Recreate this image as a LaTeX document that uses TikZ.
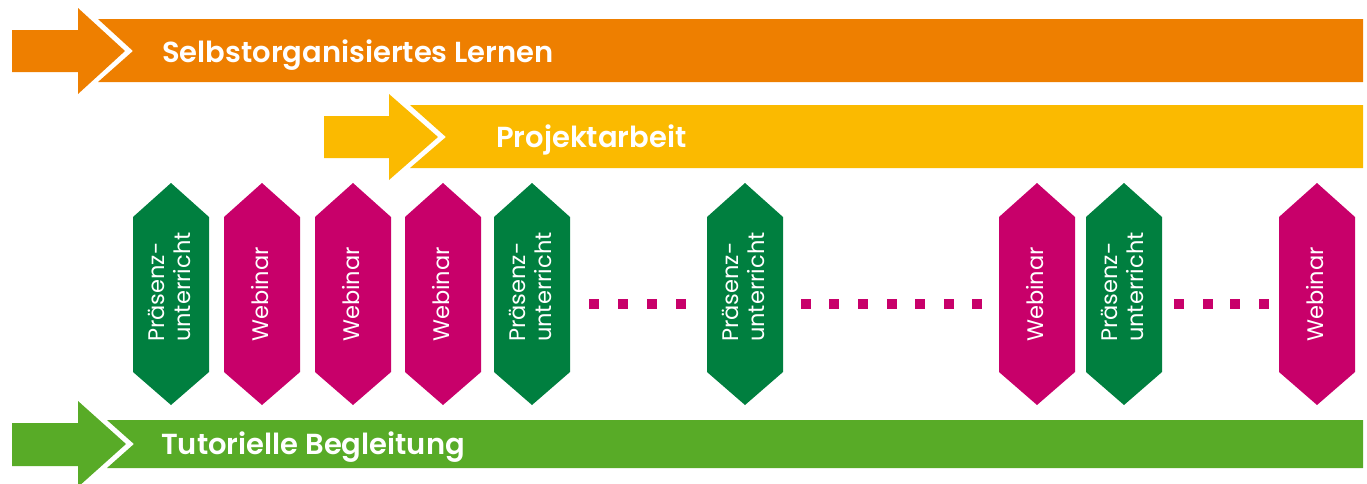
\documentclass[tikz,border=0pt]{standalone}
\usepackage{fontspec}
\setmainfont{Poppins}
\newfontfamily\titlefont{Poppins SemiBold}
\definecolor{orng}{HTML}{EE7F00}
\definecolor{yell}{HTML}{FBBA00}
\definecolor{dgrn}{HTML}{007F3F}
\definecolor{lgrn}{HTML}{58AB27}
\definecolor{mage}{HTML}{C8006A}
\tikzset{
  titletext/.style={anchor=base west, inner sep=0pt, text=white, font=\titlefont\fontsize{29}{32}\selectfont},
  hextext/.style={rotate=90, anchor=west, inner sep=0pt, text=white, align=left, font=\fontsize{22.5}{26}\selectfont},
  dotsq/.style={fill=mage, draw=none, minimum size=10pt, inner sep=0pt}
}
\newcommand{\hexat}[2]{%
  \fill[#2] (#1-38,217) -- (#1,183) -- (#1+38,217) -- (#1+38,372) -- (#1,405) -- (#1-38,372) -- cycle;}
\begin{document}
\begin{tikzpicture}[x=1pt,y=-1pt]
\useasboundingbox (0,0) rectangle (1367,483);
\clip (0,0) rectangle (1367,483);
% orange band
\fill[orng] (98,19) -- (1363,19) -- (1363,82) -- (98,82) -- (133,51) -- cycle;
\fill[orng] (12,30) -- (78,30) -- (78,8) -- (125,51) -- (78,94) -- (78,72) -- (12,72) -- cycle;
\node[titletext] (t1) at (162,62) {Selbstorganisiertes Lernen};
% yellow band
\fill[yell] (410,105) -- (1363,105) -- (1363,168) -- (410,168) -- (446,137) -- cycle;
\fill[yell] (324,116) -- (389,116) -- (389,94) -- (438,137) -- (389,180) -- (389,158) -- (324,158) -- cycle;
\node[titletext] (t2) at (496,147) {Projektarbeit};
% green band
\fill[lgrn] (107,420) -- (1363,420) -- (1363,468) -- (107,468) -- (134,444) -- cycle;
\fill[lgrn] (12,423) -- (78,423) -- (78,401) -- (126,444) -- (78,487) -- (78,466) -- (12,466) -- cycle;
\node[titletext] (t3) at (161,454) {Tutorielle Begleitung};
% hexagons
\hexat{171}{dgrn}
\hexat{262}{mage}
\hexat{353}{mage}
\hexat{443}{mage}
\hexat{532}{dgrn}
\hexat{745}{dgrn}
\hexat{1037}{mage}
\hexat{1124}{dgrn}
\hexat{1317}{mage}
\node[hextext] (h1) at (169,342) {Präsenz-\\unterricht};
\node[hextext] (h2) at (260,342) {Webinar};
\node[hextext] (h3) at (351,342) {Webinar};
\node[hextext] (h4) at (441,342) {Webinar};
\node[hextext] (h5) at (530,342) {Präsenz-\\unterricht};
\node[hextext] (h6) at (743,342) {Präsenz-\\unterricht};
\node[hextext] (h7) at (1035,342) {Webinar};
\node[hextext] (h8) at (1122,342) {Präsenz-\\unterricht};
\node[hextext] (h9) at (1315,342) {Webinar};
% dots
\foreach \x [count=\i] in {594,623,652,681,806,834,863,892,920,949,977,1179,1208,1235,1264}
  \node[dotsq] (d\i) at (\x,304) {};
\end{tikzpicture}
\end{document}
